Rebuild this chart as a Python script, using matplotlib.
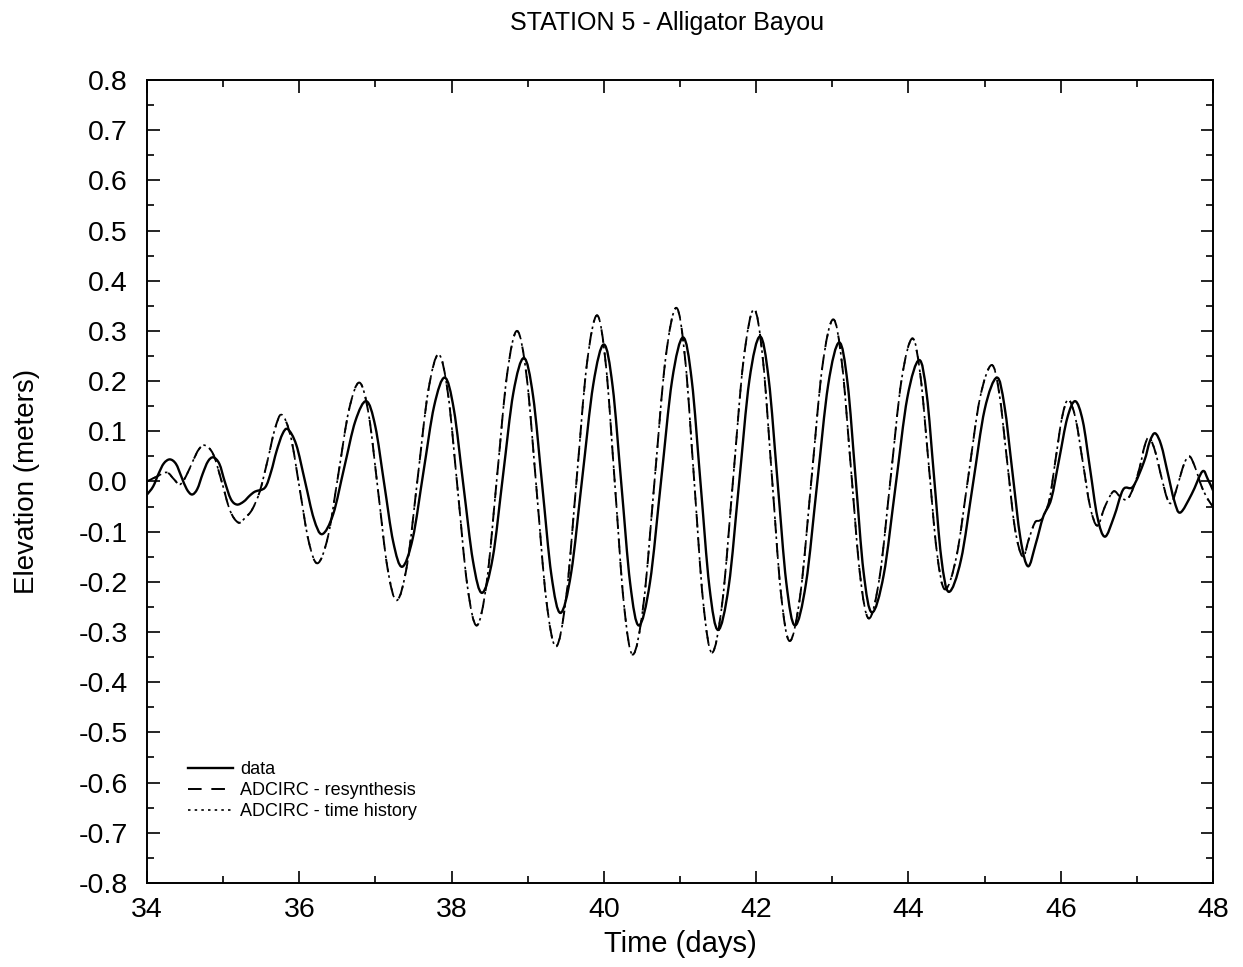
import matplotlib
matplotlib.use("Agg")
import matplotlib.pyplot as plt
from matplotlib.ticker import MultipleLocator
from matplotlib.path import Path
from matplotlib.patches import PathPatch

# ---- data ----
data_t = [34.00, 34.08, 34.15, 34.22, 34.30, 34.38, 34.45, 34.52, 34.59, 34.66, 34.73, 34.80, 34.87,
          34.95, 35.02, 35.10, 35.18, 35.27, 35.35, 35.42, 35.55, 35.63, 35.70, 35.78, 35.85,
          35.96, 36.075, 36.19, 36.30,
          36.445, 36.59, 36.735, 36.88,
          36.9975, 37.115, 37.2325, 37.35,
          37.49, 37.63, 37.77, 37.91,
          38.03, 38.155, 38.28, 38.40,
          38.54, 38.675, 38.81, 38.95,
          39.07, 39.19, 39.31, 39.43,
          39.57, 39.715, 39.86, 40.00,
          40.115, 40.23, 40.345, 40.46,
          40.605, 40.75, 40.895, 41.04,
          41.155, 41.27, 41.385, 41.50,
          41.64, 41.775, 41.91, 42.05,
          42.165, 42.28, 42.395, 42.51,
          42.655, 42.80, 42.945, 43.09,
          43.20, 43.305, 43.41, 43.52,
          43.675, 43.83, 43.985, 44.14,
          44.24, 44.335, 44.43, 44.53,
          44.69, 44.845, 45.00, 45.16,
          45.26, 45.365, 45.47, 45.57,
          45.67, 45.77,
          45.875, 45.98, 46.085, 46.19,
          46.29, 46.385, 46.48, 46.58,
          46.70, 46.82, 46.95, 47.095, 47.17, 47.24,
          47.32, 47.405, 47.49, 47.57,
          47.72, 47.86, 47.93, 48.00]
data_v = [-0.026, -0.010, 0.015, 0.036, 0.044, 0.035, 0.010, -0.015, -0.026, -0.015, 0.015, 0.040, 0.048,
          0.035, 0.000, -0.035, -0.046, -0.040, -0.028, -0.020, -0.012, 0.020, 0.060, 0.095, 0.104,
          0.073, 0.000, -0.074, -0.105,
          -0.065, 0.028, 0.120, 0.160,
          0.110, -0.005, -0.120, -0.170,
          -0.113, 0.019, 0.150, 0.207,
          0.143, -0.008, -0.158, -0.222,
          -0.152, 0.012, 0.176, 0.246,
          0.170, -0.008, -0.186, -0.262,
          -0.182, 0.006, 0.193, 0.273,
          0.189, -0.007, -0.203, -0.287,
          -0.201, 0.000, 0.201, 0.287,
          0.200, -0.005, -0.209, -0.296,
          -0.208, -0.004, 0.201, 0.289,
          0.203, 0.001, -0.201, -0.287,
          -0.202, -0.005, 0.192, 0.277,
          0.196, 0.008, -0.180, -0.261,
          -0.186, -0.010, 0.167, 0.242,
          0.173, 0.011, -0.151, -0.220,
          -0.156, -0.007, 0.143, 0.207,
          0.151, 0.019, -0.113, -0.169,
          -0.125, -0.070,
          -0.035, 0.045, 0.126, 0.160,
          0.120, 0.025, -0.070, -0.110,
          -0.070, -0.016, -0.010, 0.040, 0.080, 0.096,
          0.072, 0.017, -0.038, -0.062,
          -0.025, 0.020, 0.005, -0.018]

model_t = [34.00, 34.13, 34.26, 34.35, 34.43, 34.51, 34.60, 34.68, 34.76, 34.87, 34.98, 35.09, 35.20,
           35.29, 35.38, 35.48, 35.58, 35.68, 35.77,
           35.8875, 36.005, 36.1225, 36.24,
           36.3775, 36.515, 36.6525, 36.79,
           36.9125, 37.035, 37.1575, 37.28,
           37.4175, 37.555, 37.6925, 37.83,
           37.955, 38.08, 38.205, 38.33,
           38.4625, 38.595, 38.7275, 38.86,
           38.9875, 39.115, 39.2425, 39.37,
           39.505, 39.64, 39.775, 39.91,
           40.0275, 40.145, 40.2625, 40.38,
           40.5225, 40.665, 40.8075, 40.95,
           41.0675, 41.185, 41.3025, 41.42,
           41.5575, 41.695, 41.8325, 41.97,
           42.0875, 42.205, 42.3225, 42.44,
           42.5825, 42.725, 42.8675, 43.01,
           43.1275, 43.245, 43.3625, 43.48,
           43.6225, 43.765, 43.9075, 44.05,
           44.1575, 44.265, 44.3725, 44.48,
           44.6325, 44.785, 44.9375, 45.09,
           45.1925, 45.295, 45.3975, 45.50,
           45.58, 45.66, 45.72, 45.77,
           45.8525, 45.935, 46.0175, 46.10,
           46.195, 46.29, 46.385, 46.48,
           46.58, 46.69, 46.78, 46.87, 46.96, 47.04, 47.10, 47.16,
           47.24, 47.32, 47.40, 47.46, 47.53, 47.62, 47.69, 47.76, 47.85, 47.93, 48.00]
model_v = [0.000, 0.010, 0.018, 0.005, -0.006, 0.010, 0.040, 0.064, 0.072, 0.054, 0.000, -0.058, -0.082,
           -0.072, -0.056, -0.020, 0.040, 0.105, 0.133,
           0.089, -0.015, -0.119, -0.163,
           -0.109, 0.017, 0.143, 0.197,
           0.132, -0.020, -0.172, -0.237,
           -0.164, 0.008, 0.180, 0.253,
           0.172, -0.017, -0.206, -0.287,
           -0.199, 0.007, 0.212, 0.300,
           0.206, -0.015, -0.235, -0.329,
           -0.230, 0.001, 0.232, 0.331,
           0.230, -0.007, -0.244, -0.345,
           -0.241, 0.001, 0.242, 0.346,
           0.243, 0.003, -0.238, -0.341,
           -0.238, 0.001, 0.240, 0.343,
           0.244, 0.013, -0.219, -0.318,
           -0.222, 0.003, 0.227, 0.323,
           0.234, 0.025, -0.184, -0.273,
           -0.189, 0.006, 0.201, 0.285,
           0.210, 0.035, -0.140, -0.215,
           -0.148, 0.009, 0.165, 0.232,
           0.175, 0.041, -0.093, -0.150,
           -0.115, -0.082, -0.078, -0.070,
           -0.035, 0.047, 0.128, 0.163,
           0.125, 0.038, -0.050, -0.088,
           -0.050, -0.020, -0.030, -0.036, -0.010, 0.030, 0.070, 0.088,
           0.060, 0.010, -0.035, -0.042, -0.010, 0.035, 0.050, 0.030, -0.010, -0.035, -0.050]

series_labels = ["data", "ADCIRC - resynthesis", "ADCIRC - time history"]
title = "STATION 5 - Alligator Bayou"
x_label = "Time (days)"
y_label = "Elevation (meters)"


def smooth_path(ts, vs):
    """Bezier (Catmull-Rom style) path through the read points; drawn by matplotlib."""
    n = len(ts)
    verts = [(ts[0], vs[0])]
    codes = [Path.MOVETO]
    for i in range(n - 1):
        i0 = max(i - 1, 0)
        i3 = min(i + 2, n - 1)
        c1 = (ts[i] + (ts[i + 1] - ts[i0]) / 6.0, vs[i] + (vs[i + 1] - vs[i0]) / 6.0)
        c2 = (ts[i + 1] - (ts[i3] - ts[i]) / 6.0, vs[i + 1] - (vs[i3] - vs[i]) / 6.0)
        verts += [c1, c2, (ts[i + 1], vs[i + 1])]
        codes += [Path.CURVE4, Path.CURVE4, Path.CURVE4]
    return Path(verts, codes)


# ---- figure ----
plt.rcParams['font.family'] = ['Liberation Sans', 'DejaVu Sans']
fig = plt.figure(figsize=(12.43, 9.67), dpi=100)
ax = fig.add_axes([0.1183, 0.0869, 0.8576, 0.8304])

styles = [
    dict(lw=1.7, ls='-'),
    dict(lw=1.4, ls=(0, (7, 5))),
    dict(lw=1.2, ls=(0, (1.5, 2.5))),
]
series = [(data_t, data_v), (model_t, model_v), (model_t, model_v)]
for (ts, vs), st, lab in zip(series, styles, series_labels):
    ax.add_patch(PathPatch(smooth_path(ts, vs), facecolor='none', edgecolor='black',
                           linewidth=st['lw'], linestyle=st['ls'], capstyle='butt',
                           joinstyle='round'))
    ax.plot([], [], color='black', lw=st['lw'], ls=st['ls'], label=lab)

ax.set_xlim(34, 48)
ax.set_ylim(-0.8, 0.8)
ax.xaxis.set_major_locator(MultipleLocator(2))
ax.xaxis.set_minor_locator(MultipleLocator(1))
ax.yaxis.set_major_locator(MultipleLocator(0.1))
ax.yaxis.set_minor_locator(MultipleLocator(0.05))
ax.yaxis.set_major_formatter(plt.FuncFormatter(lambda v, p: f"{v:.1f}".replace("-0.0", "0.0")))

ax.tick_params(which='both', direction='in', top=True, right=True, width=1.2)
ax.tick_params(which='major', length=9, labelsize=20.5)
ax.tick_params(which='minor', length=5)
ax.tick_params(axis='x', which='major', pad=10)
ax.tick_params(axis='y', which='major', pad=14)
for s in ax.spines.values():
    s.set_linewidth(1.4)

ax.set_xlabel(x_label, fontsize=21)
ax.set_ylabel(y_label, fontsize=20)
ax.xaxis.set_label_coords(0.5, -0.0585)
ax.yaxis.set_label_coords(-0.100, 0.5)
fig.text(0.537, 0.976, title, ha='center', va='center', fontsize=18)

leg = ax.legend(loc='upper left', bbox_to_anchor=(0.038, 0.152), frameon=False,
                fontsize=13, handlelength=2.5, handletextpad=0.4, labelspacing=0.22,
                borderpad=0, borderaxespad=0)

fig.savefig("out.png", dpi=100)
